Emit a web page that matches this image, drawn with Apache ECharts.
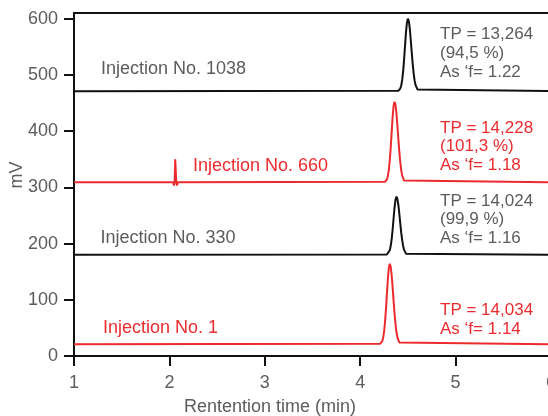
<!DOCTYPE html>
<html>
<head>
<meta charset="utf-8">
<script src="https://cdn.jsdelivr.net/npm/echarts@6/dist/echarts.min.js"></script>
<style>
html, body { margin: 0; padding: 0; background: #fff; }
#chart { width: 548px; height: 416px; }
</style>
</head>
<body>
<div id="chart"></div>
<script>
// tick values
var xTicks = [1, 2, 3, 4, 5, 6];
var yTicks = [0, 100, 200, 300, 400, 500, 600];

// chromatograms (time in min, signal in mV)
var t1038 = [1.00, 4.40, 4.42, 4.43, 4.44, 4.45, 4.46, 4.47, 4.48, 4.49, 4.50, 4.51, 4.52, 4.53, 4.54, 4.55, 4.56, 4.57, 4.58, 4.60, 4.62, 6.00];
var v1038 = [471, 471.7, 475.6, 481, 491, 506, 527, 552, 576, 593, 600, 595, 582, 562, 540, 520, 503, 490, 482, 474, 471.5, 471];

var t660 = [1.00, 2.040, 2.047, 2.055, 2.061, 2.066, 2.072, 2.080, 2.087, 4.26, 4.28, 4.29, 4.30, 4.31, 4.32, 4.33, 4.34, 4.35, 4.36, 4.37, 4.38, 4.39, 4.40, 4.41, 4.42, 4.43, 4.44, 4.46, 4.48, 6.00];
var v660 = [309, 309, 303, 310, 350, 350, 310, 303, 309, 309.8, 314, 320, 331, 348, 371, 398.5, 425, 445, 452, 446.6, 431.5, 410, 386, 363.5, 345, 330.6, 321, 312, 309.6, 309];

var t330 = [1.00, 4.28, 4.30, 4.31, 4.32, 4.33, 4.34, 4.35, 4.36, 4.37, 4.38, 4.39, 4.40, 4.41, 4.42, 4.43, 4.44, 4.45, 4.46, 4.48, 4.50, 6.00];
var v330 = [180, 180.6, 183.7, 188, 196, 208, 225, 245, 264, 278, 283.5, 279.6, 268.7, 253, 236, 219.4, 206, 195.6, 188.8, 182, 180.4, 180];

var t1 = [1.00, 4.21, 4.23, 4.24, 4.25, 4.26, 4.27, 4.28, 4.29, 4.30, 4.31, 4.32, 4.33, 4.34, 4.35, 4.36, 4.37, 4.38, 4.39, 4.41, 4.43, 6.00];
var v1 = [21, 21.8, 26, 32, 43, 60, 83, 110.5, 137, 157, 164, 158.6, 143.5, 122, 98, 75.5, 57, 42.6, 33, 24, 21.6, 21];

var traceNames = ['Injection No. 1038', 'Injection No. 660', 'Injection No. 330', 'Injection No. 1'];
var stats1038 = ['TP = 13,264', '(94,5 %)', 'As ‘f= 1.22'];
var stats660 = ['TP = 14,228', '(101,3 %)', 'As ‘f= 1.18'];
var stats330 = ['TP = 14,024', '(99,9 %)', 'As ‘f= 1.16'];
var stats1 = ['TP = 14,034', 'As ‘f= 1.14'];

var RED = '#ec2b2f';
var GREY = '#5c5c5c';
var BLACK = '#111';
var FONT = '"Liberation Sans", Arial, sans-serif';

function zip(t, v) {
    return t.map(function (x, i) { return [x, v[i]]; });
}

function trace(name, t, v, color) {
    return {
        name: name,
        type: 'line',
        data: zip(t, v),
        showSymbol: false,
        animation: false,
        lineStyle: { color: color, width: 2 },
        itemStyle: { color: color }
    };
}

function txt(x, y, s, color, size, rot) {
    return {
        type: 'text', x: x, y: y, rotation: rot || 0, silent: true,
        style: { text: s, fill: color, font: size + 'px ' + FONT, align: rot ? 'center' : 'left', verticalAlign: 'middle' }
    };
}

function block(x, y0, lines, color) {
    return lines.map(function (s, i) { return txt(x, y0 + i * 18.8, s, color, 17); });
}

var myChart = echarts.init(document.getElementById('chart'));

var graphics = [
    txt(101, 69.5, traceNames[0], GREY, 18),
    txt(193, 166.5, traceNames[1], RED, 18),
    txt(100.5, 238.5, traceNames[2], GREY, 18),
    txt(103, 328.5, traceNames[3], RED, 18),
    txt(17.5, 175, 'mV', GREY, 18, Math.PI / 2),
    { type: 'text', x: 270, y: 407, silent: true,
      style: { text: 'Rentention time (min)', fill: GREY, font: '18px ' + FONT, align: 'center', verticalAlign: 'middle' } }
]
    .concat(block(440, 34.7, stats1038, GREY))
    .concat(block(440, 128, stats660, RED))
    .concat(block(440, 201, stats330, GREY))
    .concat(block(440, 310.3, stats1, RED));

option = {
    animation: false,
    grid: { left: 74, right: -3, top: 13, bottom: 60, containLabel: false, outerBoundsMode: 'none' },
    xAxis: [
        {
            type: 'value', min: 1, max: 6, interval: 1, position: 'bottom',
            axisLine: { onZero: false, lineStyle: { color: BLACK, width: 2 } },
            axisTick: { length: 10, lineStyle: { color: BLACK, width: 2 } },
            axisLabel: { color: GREY, fontSize: 18, fontFamily: FONT, margin: 18, showMaxLabel: true },
            splitLine: { show: false }
        },
        {
            type: 'value', min: 1, max: 6, interval: 1, position: 'top',
            axisLine: { onZero: false, lineStyle: { color: BLACK, width: 2 } },
            axisTick: { show: false },
            axisLabel: { show: false },
            splitLine: { show: false }
        }
    ],
    yAxis: {
        type: 'value', min: 0, max: 610,
        axisLine: { show: true, lineStyle: { color: BLACK, width: 2 } },
        axisTick: { show: true, length: 10, customValues: yTicks, lineStyle: { color: BLACK, width: 2 } },
        axisLabel: { color: GREY, fontSize: 18, fontFamily: FONT, margin: 16, customValues: yTicks },
        splitLine: { show: false }
    },
    series: [
        trace(traceNames[0], t1038, v1038, BLACK),
        trace(traceNames[1], t660, v660, RED),
        trace(traceNames[2], t330, v330, BLACK),
        trace(traceNames[3], t1, v1, RED)
    ],
    graphic: graphics
};
myChart.setOption(option);
</script>
</body>
</html>
